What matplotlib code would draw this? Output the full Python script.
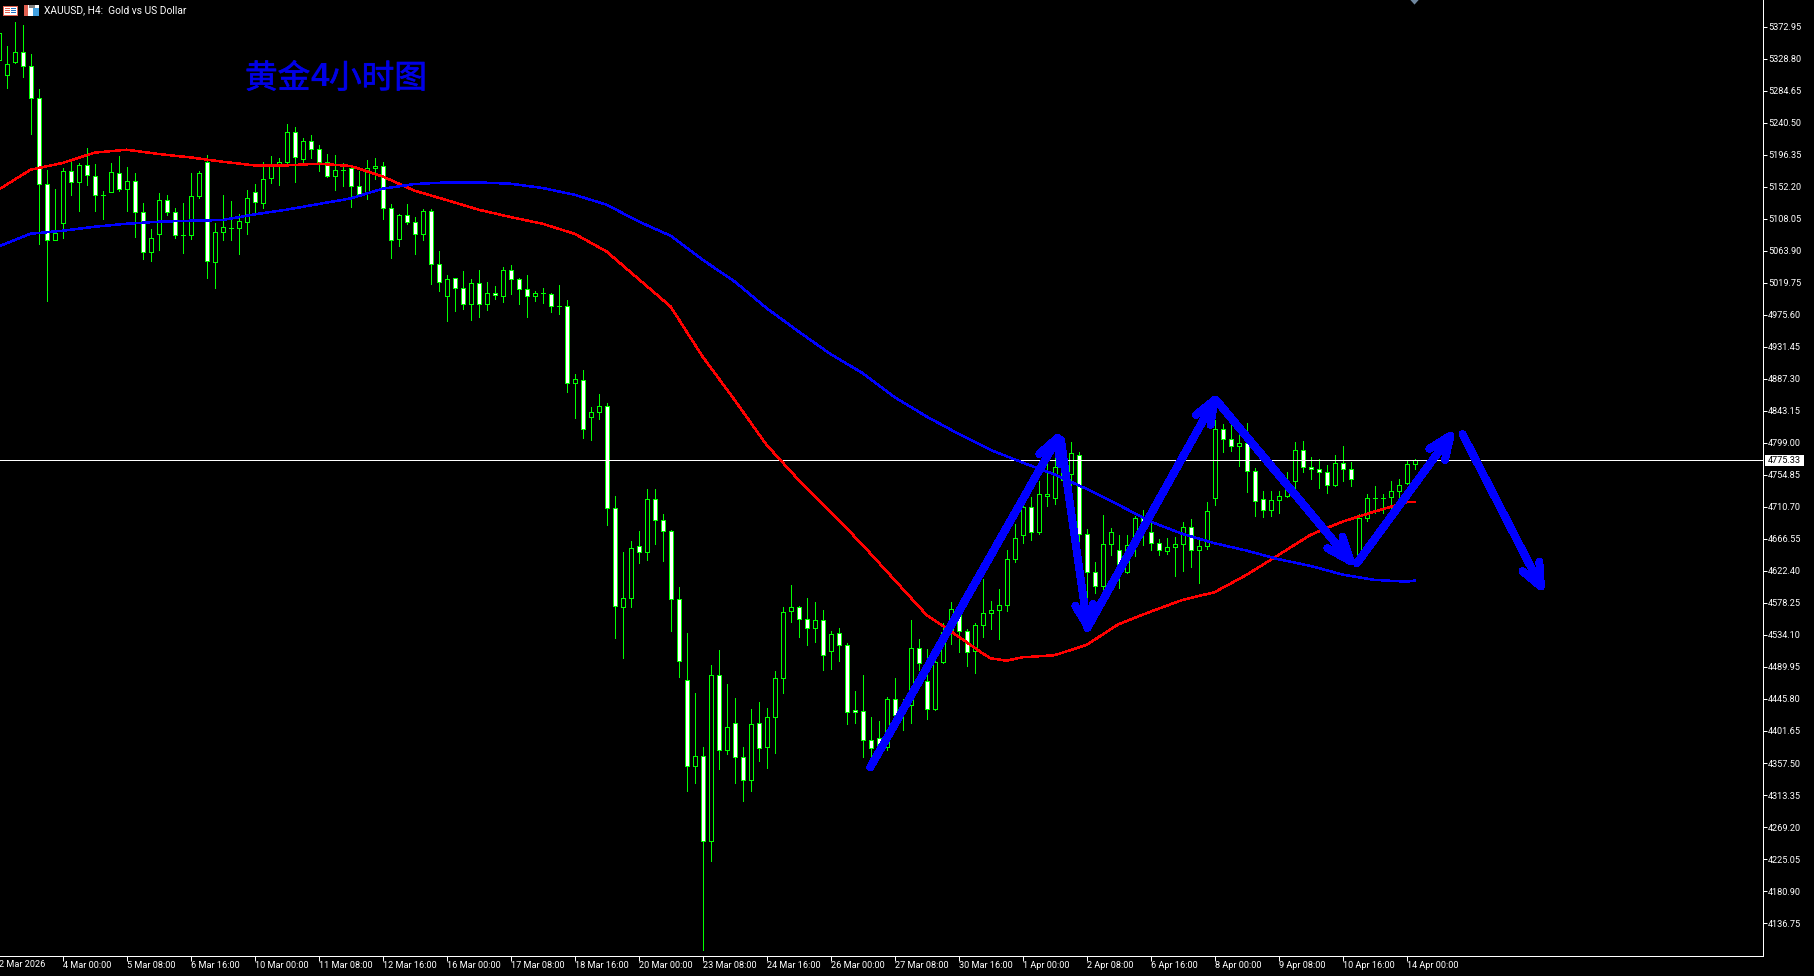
import matplotlib
matplotlib.use('Agg')
import matplotlib.pyplot as plt
import matplotlib.patheffects as pe
from matplotlib.patches import Rectangle

plt.rcParams['font.family'] = ['Roboto', 'DejaVu Sans']

highs = [5393.6,5346.7,5379.8,5375.7,5335.2,5287.4,5175.1,5148.9,5177.9,5186.2,
         5184.8,5205.5,5183.9,5145.7,5184.8,5194.5,5179.3,5171.0,5129.6,5093.7,
         5143.4,5140.6,5122.7,5129.6,5171.0,5173.8,5195.8,5102.0,5140.6,5132.4,
         5114.4,5147.5,5155.8,5186.2,5194.9,5191.7,5238.6,5234.9,5219.3,5223.4,
         5209.6,5197.2,5195.8,5184.8,5177.9,5173.8,5189.4,5191.7,5186.2,5128.2,
         5114.4,5128.2,5110.3,5121.3,5121.3,5063.4,5030.2,5026.1,5035.9,5024.8,
         5037.2,5021.1,5015.2,5041.4,5044.1,5026.2,5030.3,5008.3,5012.4,5005.5,
         5016.5,4995.8,4893.7,4899.2,4848.2,4866.1,4853.7,4725.4,4648.1,4663.3,
         4677.1,4735.0,4735.0,4700.5,4678.9,4599.8,4536.3,4453.5,4379.0,4492.1,
         4512.8,4465.9,4446.6,4379.0,4431.4,4441.1,4432.8,4483.9,4572.2,4602.5,
         4573.6,4584.6,4579.1,4568.0,4539.1,4543.2,4522.5,4456.3,4478.3,4420.4,
         4414.9,4448.9,4474.2,4445.2,4554.2,4528.0,4514.2,4517.0,4550.1,4579.1,
         4577.7,4541.8,4550.1,4610.8,4580.5,4597.0,4650.8,4686.7,4720.3,4724.0,
         4746.1,4773.2,4779.2,4779.2,4799.9,4786.1,4680.3,4634.3,4699.1,4681.2,
         4671.5,4671.5,4698.2,4706.0,4688.1,4666.0,4667.4,4669.7,4689.5,4693.6,
         4665.1,4717.1,4830.7,4824.7,4827.5,4826.1,4826.1,4764.0,4732.3,4732.3,
         4732.3,4758.5,4799.9,4801.3,4779.2,4776.4,4768.1,4781.9,4794.4,4772.3,
         4700.5,4728.1,4739.2,4728.1,4746.1,4748.8,4775.0,4776.4]

lows = [5305.3,5288.8,5322.8,5303.9,5225.3,5073.5,4994.8,5078.1,5081.8,5140.2,
        5119.0,5154.9,5119.0,5108.0,5144.3,5146.6,5119.0,5083.1,5052.8,5050.0,
        5065.2,5113.5,5081.8,5061.1,5080.4,5136.5,5026.6,5012.8,5079.0,5079.0,
        5059.7,5087.3,5115.8,5123.2,5157.2,5154.4,5184.8,5159.0,5182.5,5191.7,
        5173.8,5165.5,5147.5,5153.1,5124.6,5140.6,5135.1,5162.7,5108.0,5054.2,
        5070.7,5100.6,5059.7,5079.0,5018.3,5008.6,4967.2,4981.0,4983.9,4968.7,
        4972.8,4982.5,4997.7,4993.5,5004.6,4990.8,4972.8,4994.9,4992.2,4979.7,
        4977.0,4869.3,4833.5,4805.9,4803.1,4832.1,4685.8,4530.3,4502.7,4572.6,
        4633.4,4637.5,4659.6,4636.1,4539.5,4476.0,4318.7,4329.8,4099.3,4222.1,
        4349.1,4369.8,4329.8,4304.9,4318.7,4360.1,4350.5,4371.2,4454.0,4552.0,
        4531.2,4520.2,4524.3,4485.7,4487.1,4498.1,4411.2,4412.6,4365.6,4356.9,
        4370.7,4375.3,4419.0,4402.9,4412.6,4485.7,4418.1,4430.5,4495.4,4521.6,
        4510.5,4491.2,4481.6,4531.2,4542.3,4528.5,4567.1,4634.7,4661.4,4665.1,
        4673.4,4712.0,4714.8,4741.0,4738.7,4661.4,4584.6,4591.5,4589.2,4644.9,
        4598.4,4619.1,4643.0,4658.2,4651.3,4644.4,4645.8,4615.4,4622.3,4627.8,
        4605.8,4653.1,4713.4,4786.5,4787.9,4767.2,4731.3,4698.2,4696.8,4698.2,
        4702.4,4724.0,4736.4,4758.9,4748.8,4736.4,4729.5,4739.6,4746.1,4739.6,
        4639.8,4691.8,4701.9,4701.9,4704.2,4721.2,4742.4,4762.6]

opens = [5327.4,5305.8,5323.7,5338.0,5318.7,5274.0,5155.8,5078.1,5101.5,5173.3,
         5158.1,5182.0,5166.9,5140.6,5144.3,5171.0,5148.5,5160.0,5117.2,5062.0,
         5086.4,5133.7,5117.2,5085.4,5085.0,5138.8,5186.2,5047.7,5089.6,5095.6,
         5095.1,5102.9,5144.8,5129.1,5163.6,5183.4,5185.7,5227.6,5189.9,5215.2,
         5204.1,5186.2,5166.9,5175.1,5177.9,5153.1,5143.4,5177.4,5180.7,5122.7,
         5079.4,5113.0,5103.4,5086.8,5118.6,5045.4,5001.3,5026.1,5012.4,4990.3,
         5019.3,4990.3,5005.5,5000.9,5037.2,5024.8,5011.0,5000.9,5005.0,5004.1,
         4987.6,4987.6,4881.3,4885.4,4834.4,4841.3,4849.6,4708.8,4573.1,4584.6,
         4656.4,4648.1,4721.2,4692.2,4677.1,4583.2,4471.4,4352.8,4366.6,4250.6,
         4478.3,4374.8,4412.1,4365.2,4333.4,4412.1,4379.0,4420.4,4474.2,4566.7,
         4572.2,4555.6,4543.2,4554.2,4511.5,4536.3,4519.7,4430.0,4428.7,4388.6,
         4391.4,4379.0,4445.2,4425.9,4436.9,4515.6,4470.1,4431.4,4496.3,4536.3,
         4568.5,4539.1,4512.4,4547.3,4563.9,4568.0,4575.0,4638.4,4671.5,4710.2,
         4675.7,4725.4,4723.5,4747.9,4756.2,4782.9,4672.9,4620.5,4601.2,4659.1,
         4650.8,4621.4,4662.8,4695.0,4675.7,4660.5,4649.5,4655.0,4659.1,4682.6,
         4650.8,4656.4,4722.6,4817.8,4804.0,4794.4,4798.5,4759.9,4721.2,4706.0,
         4719.8,4725.4,4746.1,4788.8,4766.3,4762.6,4758.5,4740.5,4770.9,4762.6,
         4639.8,4695.0,4722.6,4722.6,4724.0,4732.3,4743.3,4769.5]

closes = [5364.2,5321.4,5338.0,5318.2,5274.0,5155.8,5078.1,5088.2,5173.3,5158.1,
          5182.0,5167.8,5140.2,5140.6,5172.4,5148.5,5160.0,5116.7,5062.0,5081.3,
          5133.7,5117.2,5085.0,5085.4,5139.3,5171.0,5049.1,5089.6,5096.5,5095.6,
          5104.8,5136.5,5131.0,5162.7,5183.4,5186.2,5227.6,5193.1,5215.2,5204.1,
          5185.7,5166.9,5175.1,5175.1,5153.1,5141.6,5177.9,5180.7,5122.7,5078.5,
          5113.0,5103.4,5086.8,5118.6,5045.4,5020.6,5024.7,5012.3,4990.3,5019.3,
          4990.3,5005.5,5002.7,5037.2,5024.8,5011.0,5000.9,5005.5,5005.0,4987.6,
          4987.6,4881.3,4886.8,4817.8,4841.3,4849.6,4708.8,4573.6,4584.6,4653.6,
          4648.1,4721.2,4692.2,4677.1,4583.2,4497.7,4352.8,4366.6,4250.6,4478.3,
          4374.8,4406.6,4365.2,4333.4,4410.7,4377.6,4420.4,4474.2,4565.3,4572.2,
          4555.6,4543.2,4554.2,4505.9,4534.9,4519.7,4427.3,4427.3,4388.6,4377.6,
          4379.9,4445.2,4423.1,4436.9,4515.6,4494.9,4431.4,4496.3,4537.7,4569.4,
          4539.1,4510.1,4547.3,4563.9,4568.0,4575.0,4638.4,4667.4,4710.2,4675.7,
          4728.1,4728.1,4766.3,4765.4,4784.7,4672.9,4620.5,4601.2,4659.1,4675.7,
          4626.0,4657.7,4695.0,4681.2,4660.5,4650.8,4655.0,4659.1,4682.6,4650.8,
          4656.4,4704.7,4817.8,4804.0,4794.4,4798.5,4759.9,4718.5,4706.0,4719.8,
          4725.4,4737.8,4788.8,4765.4,4762.6,4758.5,4740.5,4770.9,4762.6,4748.8,
          4695.0,4722.6,4722.6,4722.6,4732.3,4740.5,4769.5,4775.3]

red_idx = [0,4,8,12,16,20,24,28,32,36,40,44,48,52,56,60,64,68,72,76,80,84,88,92,96,
           100,104,108,112,116,120,123,124,126,128,132,136,140,144,148,152,156,160,
           164,168,172,176,177]
red_ma = [5148.1,5175.6,5184.9,5199.1,5203.2,5197.3,5192.6,5186.7,5181.6,5181.6,5183.9,
          5180.8,5166.4,5146.7,5133.8,5120.5,5110.4,5101.1,5087.3,5062.9,5024.9,4987.0,
          4918.1,4858.3,4796.2,4747.9,4704.2,4658.3,4610.0,4561.7,4531.8,4508.8,4502.0,
          4498.6,4503.3,4506.1,4520.3,4548.9,4566.2,4582.4,4593.0,4616.9,4644.4,4672.1,
          4690.4,4704.2,4717.2,4717.6]
blue_idx = [0,4,8,12,16,20,24,28,32,36,40,44,48,52,56,60,64,68,72,76,80,84,88,92,96,
            100,104,108,112,116,120,124,128,132,136,140,144,148,152,156,160,164,168,
            172,176,177]
blue_ma = [5069.8,5087.3,5091.5,5097.0,5101.1,5103.9,5105.3,5106.2,5114.0,5120.5,5128.3,
           5136.0,5149.4,5155.9,5158.1,5158.1,5156.3,5150.4,5141.1,5127.4,5104.3,5084.6,
           5051.5,5021.5,4984.8,4952.5,4921.4,4895.2,4862.0,4835.3,4811.4,4789.3,4771.8,
           4755.4,4735.5,4713.5,4690.4,4673.4,4660.6,4650.4,4638.5,4629.3,4617.3,4610.0,
           4607.6,4609.0]

last_price = 4775.33

# hand drawn arrows: start, tip, two barbs (bar index, price)
arrow_xs = [[108.97,132.4,130.1,132.7],[132.8,136.1,134.6,136.8],[136.1,152.0,149.7,151.5],
            [152.2,169.0,166.1,168.0],[169.8,181.5,178.85,180.8],[183.0,192.8,190.5,192.6]]
arrow_ys = [[4351.6,4806.0,4783.8,4770.0],[4803.1,4547.0,4574.1,4576.8],[4543.7,4858.0,4837.6,4823.8],
            [4858.0,4636.0,4653.7,4669.7],[4633.0,4809.0,4790.7,4775.5],[4811.0,4601.0,4622.0,4635.2]]

price_ticks = [5372.95,5328.80,5284.65,5240.50,5196.35,5152.20,5108.05,5063.90,5019.75,
               4975.60,4931.45,4887.30,4843.15,4799.00,4754.85,4710.70,4666.55,4622.40,
               4578.25,4534.10,4489.95,4445.80,4401.65,4357.50,4313.35,4269.20,4225.05,
               4180.90,4136.75]
date_labels = ['2 Mar 2026','4 Mar 00:00','5 Mar 08:00','6 Mar 16:00','10 Mar 00:00',
               '11 Mar 08:00','12 Mar 16:00','16 Mar 00:00','17 Mar 08:00','18 Mar 16:00',
               '20 Mar 00:00','23 Mar 08:00','24 Mar 16:00','26 Mar 00:00','27 Mar 08:00',
               '30 Mar 16:00','1 Apr 00:00','2 Apr 08:00','6 Apr 16:00','8 Apr 00:00',
               '9 Apr 08:00','10 Apr 16:00','14 Apr 00:00']

W, H = 1815, 976
GREEN = '#00ff00'
BLUE = '#0000ff'
PX = 0.72  # one pixel in points


def fx(x):
    return x / W


def fy(y):
    return 1 - y / H


fig = plt.figure(figsize=(W / 100, H / 100), dpi=100, facecolor='black')
ax = fig.add_axes([0, fy(955.5), fx(1763), 955.5 / H], facecolor='black')

idx = list(range(len(opens)))
bottoms = [min(o, c) for o, c in zip(opens, closes)]
heights = [abs(o - c) for o, c in zip(opens, closes)]
faces = ['white' if c < o else 'black' for o, c in zip(opens, closes)]

ax.vlines(idx, lows, highs, color=GREEN, lw=PX, antialiased=False, zorder=2)
ax.bar(idx, heights, bottom=bottoms, width=0.5, color=faces, edgecolor=GREEN, lw=PX,
       antialiased=False, zorder=3)

ax.axhline(last_price, color='white', lw=PX, antialiased=False, zorder=4)
ax.plot(red_idx, red_ma, color='#ff0000', lw=1.05, antialiased=False, zorder=5)
ax.plot(blue_idx, blue_ma, color=BLUE, lw=1.05, antialiased=False, zorder=5)

for xs, ys in zip(arrow_xs, arrow_ys):
    ax.plot(xs[:2], ys[:2], color=BLUE, lw=5.0, solid_capstyle='round', antialiased=False, zorder=6)
    ax.plot([xs[2], xs[1], xs[3]], [ys[2], ys[1], ys[3]], color=BLUE, lw=5.0,
            solid_capstyle='round', solid_joinstyle='round', antialiased=False, zorder=6)

# little grey marker on the top edge above the last bar
ax.fill([176.44, 177.56, 177], [5410.2, 5410.2, 5403.3], color='#7088a0', lw=0, zorder=6)

for s in ['left', 'top']:
    ax.spines[s].set_visible(False)
for s in ['right', 'bottom']:
    ax.spines[s].set_color('white')
    ax.spines[s].set_linewidth(PX)

ax.yaxis.tick_right()
ax.set_yticks(price_ticks)
ax.set_yticklabels(['%.2f' % p for p in price_ticks], fontsize=6.6, color='white')
ax.set_xticks(idx[8::8])
ax.set_xticklabels(date_labels[1:], fontsize=6.6, color='white', ha='left')
ax.tick_params(axis='y', length=2.9, width=PX, color='white', pad=0.6)
ax.tick_params(axis='x', length=3.4, width=PX, color='white', pad=0.8)

# limits last, set_xticks would widen them
ax.set_xlim(0.1875, 220.56)
ax.set_ylim(4092.05, 5409.65)

# first date sits just left of the frame, so it is no regular tick
fig.text(fx(-1.5), fy(964.8), date_labels[0], fontsize=6.6, color='white', va='center')

# price tag for the last price
fig.add_artist(Rectangle((fx(1765), fy(465.5)), 39 / W, 10.5 / H, transform=fig.transFigure,
                         facecolor='white', edgecolor='none'))
fig.text(fx(1767.5), fy(460.6), '%.2f' % last_price, fontsize=6.6, color='black', va='center')

# chart window title and its two icons
fig.text(fx(44.5), fy(10.5), 'XAUUSD, H4:  Gold vs US Dollar', fontsize=7.4, color='white', va='center')


def box(x, y, w, h, color):
    fig.add_artist(Rectangle((fx(x), fy(y + h)), w / W, h / H, transform=fig.transFigure,
                             facecolor=color, edgecolor='none', antialiased=False))


box(3, 6, 15, 10, '#e06050')
box(4, 7, 13, 8, 'white')
box(5, 8, 5, 1, '#e06050')
box(5, 10, 5, 1, '#e06050')
box(5, 12, 5, 1, '#e06050')
box(11, 8, 5, 1, '#2070c0')
box(11, 10, 5, 1, '#2070c0')
box(11, 12, 5, 1, '#2070c0')
box(24, 5, 15, 11, 'white')
box(24, 5, 4, 11, '#e06050')
box(33, 8, 6, 8, '#40a0e0')
box(29, 5, 6, 3, '#808080')

# annotation text on the chart
cjk = ['Noto Sans CJK SC', 'DejaVu Sans']
thick = [pe.withStroke(linewidth=0.5, foreground='#0000e6')]
fig.text(fx(245), fy(88), '黄金', family=cjk, fontsize=23.5, color='#0000e6', va='baseline', path_effects=thick)
fig.text(fx(311), fy(86), '4', family=['Liberation Sans'], weight='bold', fontsize=24,
         color='#0000e6', va='baseline')
fig.text(fx(329), fy(88), '小时图', family=cjk, fontsize=23.5, color='#0000e6', va='baseline', path_effects=thick)

fig.savefig('out.png', dpi=100, facecolor='black')
